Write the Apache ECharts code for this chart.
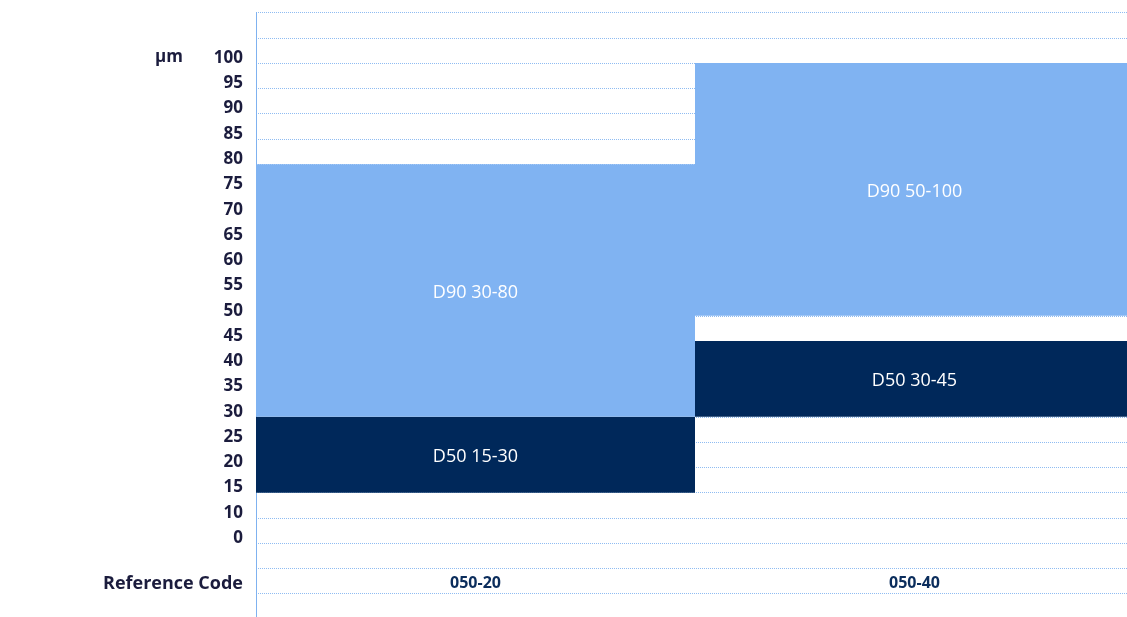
<!DOCTYPE html>
<html>
<head>
<meta charset="utf-8">
<script src="https://cdn.jsdelivr.net/npm/echarts@6/dist/echarts.min.js"></script>
<style>
html,body{margin:0;padding:0;background:#fff;}
#chart{width:1127px;height:617px;}
</style>
</head>
<body>
<div id="chart"></div>
<script>
// ---- data ----
const categories = ['050-20', '050-40'];
const d50Low = [15, 30];
const d50High = [30, 45];
const d90Low = [30, 50];
const d90High = [80, 100];
const yTickValues = [100, 95, 90, 85, 80, 75, 70, 65, 60, 55, 50, 45, 40, 35, 30, 25, 20, 15, 10, 5];
const yTickLabels = ['100', '95', '90', '85', '80', '75', '70', '65', '60', '55', '50', '45', '40', '35', '30', '25', '20', '15', '10', '0'];
const unitLabel = 'µm';
const xAxisTitle = 'Reference Code';

// ---- derived ----
const d50Size = d50High.map((v, i) => v - d50Low[i]);
const gapSize = d90Low.map((v, i) => v - d50High[i]);
const d90Size = d90High.map((v, i) => v - d90Low[i]);

const LIGHT = '#80b3f2';
const NAVY = '#00285a';
const LABEL_DARK = '#1b1c3d';
const GRID = '#8fbcf2';
const AXIS = '#7fb2f0';
const FONT = '"Open Sans", "Noto Sans", sans-serif';

const chart = echarts.init(document.getElementById('chart'), null, {renderer: 'canvas'});

const barLabel = {
  show: true, position: 'inside', color: '#fff', fontSize: 18, fontFamily: FONT, offset: [0, 2]
};

const option = {
  animation: false,
  backgroundColor: '#fff',
  grid: {left: 256, width: 878, top: 12.5, bottom: -2, containLabel: false, outerBoundsMode: 'none'},
  xAxis: {
    type: 'category',
    data: categories,
    axisLine: {show: false},
    axisTick: {show: false},
    splitLine: {show: false},
    axisLabel: {
      inside: true,
      margin: 28,
      color: '#0b2d5c',
      fontWeight: 'bold',
      fontSize: 16,
      fontFamily: FONT
    }
  },
  yAxis: {
    type: 'value',
    min: -10,
    max: 110,
    interval: 5,
    axisLine: {show: true, lineStyle: {color: AXIS, width: 1}},
    axisTick: {show: false},
    splitLine: {show: true, lineStyle: {color: GRID, type: [1, 1], width: 1}},
    axisLabel: {
      margin: 13,
      color: LABEL_DARK,
      fontWeight: 'bold',
      fontSize: 17,
      fontFamily: FONT,
      verticalAlign: 'bottom',
      lineHeight: 10,
      formatter: function (v) {
        const idx = yTickValues.indexOf(v);
        return idx >= 0 ? yTickLabels[idx] : '';
      }
    }
  },
  graphic: [
    {
      type: 'text',
      left: 155, top: 49,
      style: {text: unitLabel, fill: LABEL_DARK, font: 'bold 17px ' + FONT}
    },
    {
      type: 'text',
      right: 1127 - 243, top: 575,
      style: {text: xAxisTitle, fill: LABEL_DARK, font: 'bold 18px ' + FONT}
    }
  ],
  series: [
    {
      type: 'bar', stack: 's', silent: true,
      barWidth: '100%', barCategoryGap: 0,
      itemStyle: {color: 'transparent'},
      data: d50Low
    },
    {
      type: 'bar', stack: 's', silent: true,
      barWidth: '100%',
      itemStyle: {color: NAVY},
      label: Object.assign({}, barLabel, {
        formatter: p => 'D50 ' + d50Low[p.dataIndex] + '-' + d50High[p.dataIndex]
      }),
      data: d50Size
    },
    {
      type: 'bar', stack: 's', silent: true,
      barWidth: '100%',
      itemStyle: {color: 'transparent'},
      data: gapSize
    },
    {
      type: 'bar', stack: 's', silent: true,
      barWidth: '100%',
      itemStyle: {color: LIGHT},
      label: Object.assign({}, barLabel, {
        formatter: p => 'D90 ' + d90Low[p.dataIndex] + '-' + d90High[p.dataIndex]
      }),
      data: d90Size
    }
  ]
};
chart.setOption(option);
</script>
</body>
</html>
